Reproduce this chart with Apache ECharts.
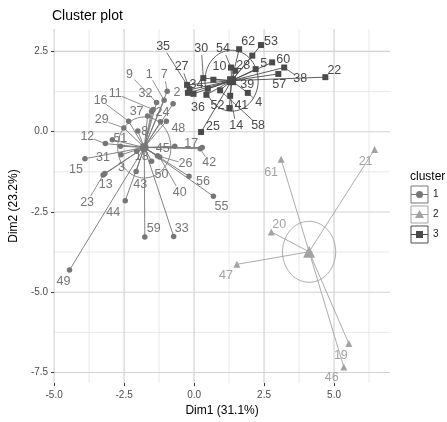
<!DOCTYPE html>
<html><head><meta charset="utf-8">
<script src="https://cdn.jsdelivr.net/npm/echarts@6.0.0/dist/echarts.min.js"></script>
<style>html,body{margin:0;padding:0;background:#fff}#c{width:447px;height:422px}</style>
</head><body><div id="c"></div>
<script>
// ---------------- data ----------------
const cluster1Ids = [1,2,3,7,8,9,11,12,13,15,16,17,18,23,24,26,29,31,32,33,37,40,42,43,44,45,48,49,50,51,55,56,59];
const cluster1X = [-1.07,-0.75,-2.63,-0.96,-2.01,-1.34,-1.46,-3.17,-3.19,-3.90,-2.34,0.29,-2.05,-3.25,-1.20,-1.31,-2.51,-2.61,-1.52,-0.73,-1.66,-1.23,0.22,-2.07,-2.46,-0.69,-0.99,-4.45,-1.52,-2.92,0.69,-0.18,-1.76];
const cluster1Y = [0.98,0.87,-0.45,1.26,0.02,0.91,0.69,-0.37,-1.30,-0.84,0.33,-0.49,-0.61,-1.35,0.31,-0.75,0.12,-0.72,0.63,-3.26,0.49,-0.79,-0.53,-1.24,-2.15,-0.45,0.33,-4.31,-0.92,-0.25,-2.01,-1.39,-3.28];

const cluster2Ids = [61,21,20,47,19,46];
const cluster2X = [3.11,6.45,2.76,1.53,5.53,5.35];
const cluster2Y = [-0.86,-0.55,-3.12,-4.13,-6.60,-7.33];

const cluster3Ids = [35,27,34,36,30,10,6,52,58,14,41,25,4,39,5,60,38,57,22,53,62,54,28];
const cluster3X = [-0.25,-0.16,-0.02,-0.22,0.33,0.69,0.49,0.44,0.93,1.29,1.26,0.25,1.92,2.08,2.20,2.79,3.22,3.01,4.69,2.39,1.61,1.32,1.47];
const cluster3Y = [1.46,1.31,1.18,1.21,1.67,1.62,1.34,1.15,1.29,1.12,0.74,-0.01,1.21,2.37,1.95,2.16,2.00,1.80,1.70,2.70,2.57,2.00,1.90];

const centerX = [-1.78, 4.11, 1.34];
const centerY = [-0.49, -3.74, 1.59];
const clusterNames = ['1','2','3'];
const circleRadius = 0.95;

const xMin = -5, xMax = 7, yMin = -7.83, yMax = 3.2;
const xTicks = [-5.0,-2.5,0.0,2.5,5.0];
const yTicks = [2.5,0.0,-2.5,-5.0,-7.5];
const xMinor = [-3.75,-1.25,1.25,3.75,6.25];
const yMinor = [1.25,-1.25,-3.75,-6.25];

// ---------------- layout (label offsets in px: dx, dy, draw segment) ----------------
const labelOff1 = [[-15,-26,1],[4,-11,0],[1,21,0],[-3,-17,1],[7,0,0],[-27,-28,1],[-38,-16,1],[-18,-7,1],[1,11,0],[-9,11,0],[-28,-21,1],[-11,-4,0],[5,5,0],[-16,27,1],[2,-9,0],[28,8,1],[-22,-8,1],[-18,3,0],[-6,-18,0],[8,-8,0],[-11,-4,0],[20,35,1],[9,14,1],[4,13,0],[-12,12,0],[-12,2,0],[12,7,0],[-6,11,0],[10,13,0],[8,-1.5,0],[8,10,0],[14,5,0],[9,-8,0]];
const labelOff2 = [[-10,13,0],[-9,12,0],[8,-7,0],[-11,11,0],[-8,12,0],[-12,10,0]];
const labelOff3 = [[-24,-38,1],[-8,-23,1],[3,-9,0],[10,15,0],[-2,-30,1],[6,-13,0],null,[11,11,0],[38,35,1],[6,30,1],[12,-2,0],[12,-6,0],[11,10,1],[-5,29,0],[8,-6,0],[11,-3,0],[16,11,1],[1,11,0],[9,-7,0],[10,-4,0],[9,-8,0],[-8,-19,1],[8,-5,0]];

const colors = ['#767676','#a3a3a3','#4a4a4a'];
const symbols = ['circle','triangle','rect'];
const symSize = [5.5,7,6];
const centerSize = [9,12,9];
const FONT = '"Liberation Sans", Arial, Helvetica, sans-serif';

const clusters = [
  {ids:cluster1Ids, xs:cluster1X, ys:cluster1Y, offs:labelOff1},
  {ids:cluster2Ids, xs:cluster2X, ys:cluster2Y, offs:labelOff2},
  {ids:cluster3Ids, xs:cluster3X, ys:cluster3Y, offs:labelOff3}
];

const series = [];

// grid lines drawn with custom series through the axis scales
const gridVals = [];
xMinor.forEach(v=>gridVals.push({value:[v, yMin, 0]}));
yMinor.forEach(v=>gridVals.push({value:[xMin, v, 1]}));
xTicks.forEach(v=>gridVals.push({value:[v, yMin, 2]}));
yTicks.forEach(v=>gridVals.push({value:[xMin, v, 3]}));
series.push({
  type:'custom', coordinateSystem:'cartesian2d', silent:true, z:0, clip:false,
  dimensions:['x','y','k'], encode:{x:0, y:1},
  data: gridVals,
  renderItem:(params, api)=>{
    const k = api.value(2);
    const major = k >= 2;
    const style = {stroke: major ? '#d3d3d3' : '#e3e3e3', lineWidth: major ? 1.2 : 0.8, fill:null};
    if (k === 0 || k === 2) {
      const a = api.coord([api.value(0), yMin]);
      const b = api.coord([api.value(0), yMax]);
      return {type:'line', shape:{x1:a[0], y1:a[1], x2:b[0], y2:b[1]}, style};
    } else {
      const a = api.coord([xMin, api.value(1)]);
      const b = api.coord([xMax, api.value(1)]);
      return {type:'line', shape:{x1:a[0], y1:a[1], x2:b[0], y2:b[1]}, style};
    }
  }
});

// circles (euclid)
series.push({
  type:'custom', coordinateSystem:'cartesian2d', silent:true, z:2,
  data: centerX.map((x,i)=>[x, centerY[i], i]),
  renderItem:(params, api)=>{
    const cx = api.value(0), cy = api.value(1), i = api.value(2);
    const pts = [];
    for (let k=0;k<=90;k++){ const a=k/90*2*Math.PI; pts.push(api.coord([cx+circleRadius*Math.cos(a), cy+circleRadius*Math.sin(a)])); }
    return {type:'polyline', shape:{points:pts}, style:{stroke:colors[i], fill:null, lineWidth:0.9}};
  }
});

clusters.forEach((c,ci)=>{
  series.push({
    type:'lines', coordinateSystem:'cartesian2d', silent:true, z:3,
    data: c.xs.map((x,i)=>({coords:[[x, c.ys[i]],[centerX[ci], centerY[ci]]]})),
    lineStyle:{color:colors[ci], width:0.9, opacity:1}
  });
});
clusters.forEach((c,ci)=>{
  series.push({
    type:'scatter', name:clusterNames[ci], z:4, silent:true,
    data: c.xs.map((x,i)=>[x, c.ys[i]]),
    symbol: symbols[ci], symbolSize: symSize[ci],
    itemStyle:{color:colors[ci], opacity:1}
  });
});
centerX.forEach((x,ci)=>{
  series.push({
    type:'scatter', z:5, silent:true,
    data:[[x, centerY[ci]]],
    symbol: symbols[ci], symbolSize: centerSize[ci],
    itemStyle:{color:colors[ci], opacity:1}
  });
});
clusters.forEach((c,ci)=>{
  series.push({
    type:'custom', coordinateSystem:'cartesian2d', silent:true, z:6, clip:false,
    data: c.xs.map((x,i)=>[x, c.ys[i], i]),
    renderItem:(params, api)=>{
      const i = api.value(2);
      const o = c.offs[i];
      if (!o) return null;
      const p = api.coord([api.value(0), api.value(1)]);
      const lx = p[0]+o[0], ly = p[1]+o[1];
      const children = [];
      if (o[2]) {
        const dx = lx-p[0], dy = ly-p[1], d = Math.hypot(dx,dy);
        const s = 7/d;
        children.push({type:'line', shape:{x1:p[0], y1:p[1], x2:lx-dx*s, y2:ly-dy*s}, style:{stroke:colors[ci], lineWidth:0.8}});
      }
      children.push({type:'text', style:{text:String(c.ids[i]), x:lx, y:ly, fill:colors[ci], fontSize:12.5, fontFamily:FONT, align:'center', verticalAlign:'middle'}});
      return {type:'group', children};
    }
  });
});

// legend (manual)
const legendGraphics = [{type:'text', left:410, top:171, style:{text:'cluster', fontSize:12, fontFamily:FONT, fill:'#000'}}];
const boxTop = [186, 206, 226];
for (let ci=0; ci<3; ci++){
  const bx = 411, by = boxTop[ci], s = 17;
  const cx = bx+s/2, cy = by+s/2;
  const kids = [
    {type:'rect', shape:{x:bx, y:by, width:s, height:s}, style:{fill:'#fff', stroke:colors[ci], lineWidth:1}},
    {type:'text', style:{text:'a', x:cx, y:cy+1, fill:colors[ci], opacity:0.5, fontSize:10, fontFamily:FONT, align:'center', verticalAlign:'middle'}},
    {type:'line', shape:{x1:bx, y1:cy, x2:bx+s, y2:cy}, style:{stroke:colors[ci], lineWidth:1}}
  ];
  if (ci===0) kids.push({type:'circle', shape:{cx, cy, r:3.5}, style:{fill:colors[ci]}});
  if (ci===1) kids.push({type:'polygon', shape:{points:[[cx,cy-4.5],[cx+4.5,cy+3.5],[cx-4.5,cy+3.5]]}, style:{fill:colors[ci]}});
  if (ci===2) kids.push({type:'rect', shape:{x:cx-3.5, y:cy-3.5, width:7, height:7}, style:{fill:colors[ci]}});
  kids.push({type:'text', style:{text:clusterNames[ci], x:bx+s+5, y:cy, fill:'#1a1a1a', fontSize:10, fontFamily:FONT, align:'left', verticalAlign:'middle'}});
  legendGraphics.push({type:'group', children:kids});
}

const chart = echarts.init(document.getElementById('c'), null, {renderer:'canvas'});
chart.setOption({
  animation:false,
  backgroundColor:'#fff',
  title:{text:'Cluster plot', left:52, top:9, padding:0, textStyle:{fontSize:14, fontWeight:'normal', color:'#000', fontFamily:FONT}},
  grid:{left:52, right:57, top:29, bottom:36},
  xAxis:{type:'value', min:xMin, max:xMax,
    name:'Dim1 (31.1%)', nameLocation:'middle', nameGap:21,
    nameTextStyle:{fontSize:12, color:'#000', fontFamily:FONT},
    axisLine:{show:false, onZero:false}, splitLine:{show:false},
    axisTick:{show:true, customValues:xTicks, length:3, lineStyle:{color:'#333'}},
    axisLabel:{customValues:xTicks, formatter:v=>Number(v).toFixed(1), fontSize:10, color:'#4d4d4d', margin:7, fontFamily:FONT}
  },
  yAxis:{type:'value', min:yMin, max:yMax,
    name:'Dim2 (23.2%)', nameLocation:'middle', nameGap:32,
    nameTextStyle:{fontSize:12, color:'#000', fontFamily:FONT},
    axisLine:{show:false, onZero:false}, splitLine:{show:false},
    axisTick:{show:true, customValues:yTicks, length:3, lineStyle:{color:'#333'}},
    axisLabel:{customValues:yTicks, formatter:v=>Number(v).toFixed(1), fontSize:10, color:'#4d4d4d', margin:6, fontFamily:FONT}
  },
  graphic: legendGraphics,
  series
});
</script>
</body></html>
